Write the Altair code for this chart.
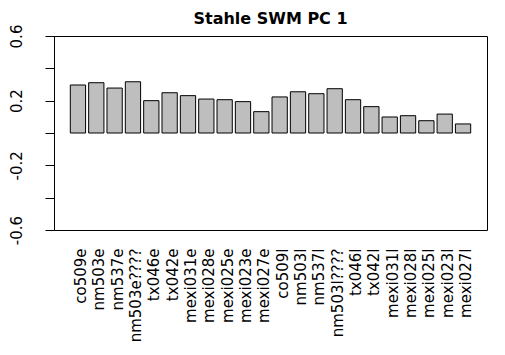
import altair as alt
import pandas as pd

sites = ["co509e", "nm503e", "nm537e", "nm503e????", "tx046e", "tx042e",
         "mexi031e", "mexi028e", "mexi025e", "mexi023e", "mexi027e",
         "co509l", "nm503l", "nm537l", "nm503l????", "tx046l", "tx042l",
         "mexi031l", "mexi028l", "mexi025l", "mexi023l", "mexi027l"]
loadings = [0.297, 0.311, 0.278, 0.317, 0.200, 0.249, 0.231, 0.210, 0.206, 0.194, 0.132,
            0.223, 0.255, 0.243, 0.274, 0.206, 0.163, 0.099, 0.107, 0.076, 0.117, 0.056]
y_ticks = [-0.6, -0.4, -0.2, 0.0, 0.2, 0.4, 0.6]

df = pd.DataFrame({"site": sites, "value": loadings})

chart = alt.Chart(df).mark_bar(
    fill="#BEBEBE", stroke="black", strokeWidth=1
).encode(
    x=alt.X("site:N", sort=sites,
            scale=alt.Scale(paddingInner=0.1667, paddingOuter=0.889),
            axis=alt.Axis(title=None, labelAngle=270, labelAlign="right",
                          labelBaseline="middle", ticks=False, domain=False,
                          labelPadding=18, labelOffset=3,
                          labelFont="DejaVu Sans", labelFontSize=15,
                          labelColor="black", labelOverlap=False)),
    y=alt.Y("value:Q",
            scale=alt.Scale(domain=[-0.6, 0.6], nice=False, zero=False),
            axis=alt.Axis(title=None, values=y_ticks, grid=False,
                          tickSize=9, tickColor="black", domainColor="black",
                          labelAngle=270, labelAlign="center", labelBaseline="bottom",
                          labelPadding=21, labelFont="DejaVu Sans", labelFontSize=15,
                          labelColor="black", labelOverlap=False,
                          labelExpr="abs(round(datum.value*10)) % 4 == 2 ? toString(round(datum.value*10)/10) : ''"))
).properties(
    width=433, height=194,
    padding={"left": 54, "top": 36, "right": 18, "bottom": 125},
    autosize=alt.AutoSizeParams(type="none"),
    background="white",
    title=alt.TitleParams("Stahle SWM PC 1", font="DejaVu Sans", fontSize=16,
                          fontWeight="bold", color="black", anchor="middle",
                          offset=8, dy=11)
).configure_view(
    stroke="black", strokeWidth=1
)

chart.save("out.html", embed_options={"renderer": "svg", "actions": False})
